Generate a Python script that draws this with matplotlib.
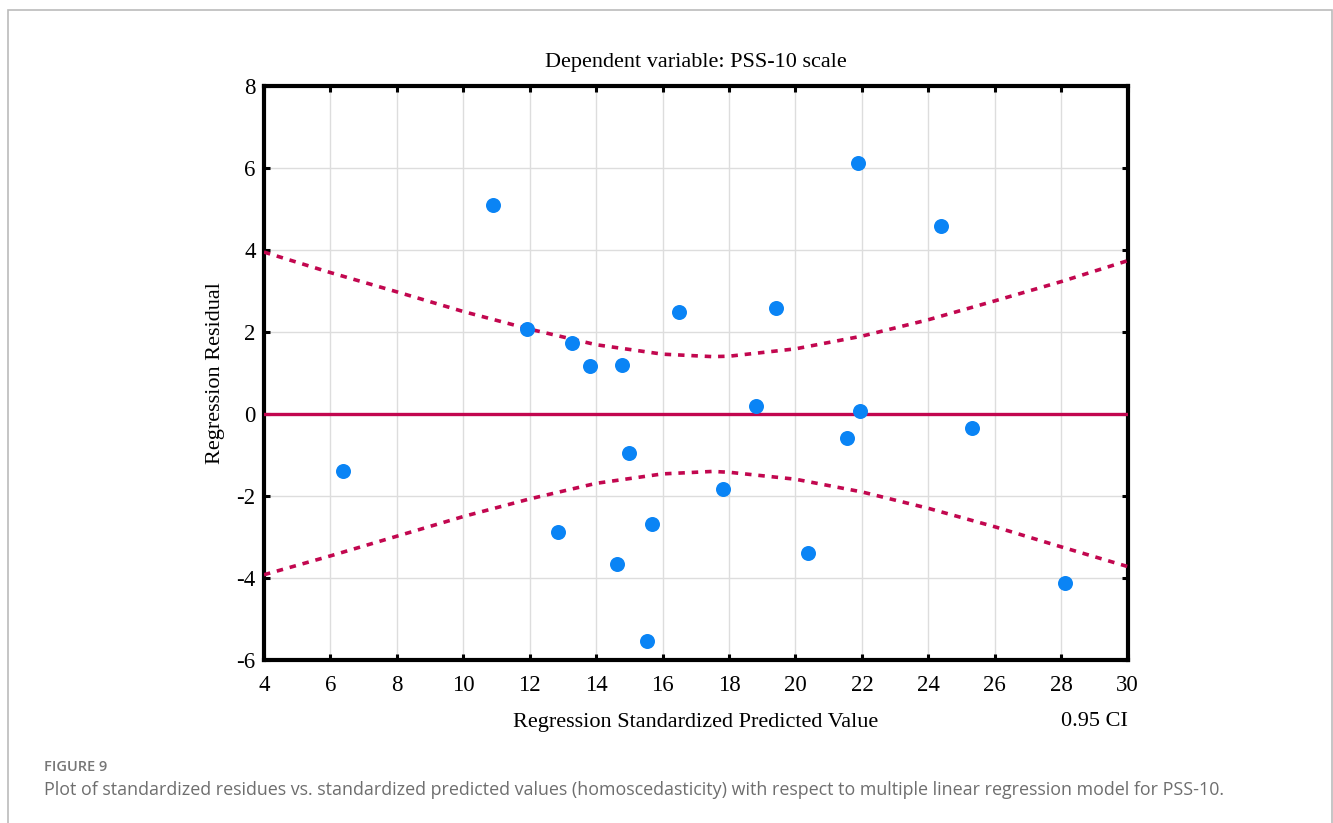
import matplotlib
matplotlib.use("Agg")
import matplotlib.pyplot as plt
from matplotlib.patches import Rectangle

plt.rcParams["axes.unicode_minus"] = False

# predicted vs residual values
predicted = [6.39, 10.90, 11.92, 12.86, 13.27, 13.82, 14.64, 14.77, 14.98, 15.52,
             15.67, 16.50, 17.81, 18.80, 19.41, 20.38, 21.56, 21.87, 21.94, 24.37,
             25.32, 28.11]
residual = [-1.39, 5.11, 2.07, -2.87, 1.73, 1.17, -3.65, 1.20, -0.96, -5.53,
            -2.67, 2.48, -1.82, 0.20, 2.59, -3.40, -0.58, 6.12, 0.07, 4.59,
            -0.33, -4.11]

# 0.95 confidence band, read at grid positions
ci_x = [4, 6, 8, 10, 12, 14, 16, 17.5, 18, 20, 22, 24, 26, 28, 30]
ci_upper = [3.95, 3.45, 2.98, 2.50, 2.07, 1.69, 1.46, 1.40, 1.41, 1.59, 1.90, 2.30, 2.76, 3.23, 3.74]
ci_lower = [-3.92, -3.46, -2.98, -2.50, -2.07, -1.69, -1.46, -1.40, -1.42, -1.59, -1.90, -2.30, -2.75, -3.24, -3.72]

x_ticks = list(range(4, 31, 2))
y_ticks = list(range(-6, 9, 2))

title = "Dependent variable: PSS-10 scale"
x_label = "Regression Standardized Predicted Value"
y_label = "Regression Residual"
ci_label = "0.95 CI"
fig_tag = "FIGURE 9"
caption = ("Plot of standardized residues vs. standardized predicted values (homoscedasticity) "
           "with respect to multiple linear regression model for PSS-10.")

blue = "#0A84F5"
crimson = "#C2074F"
serif = ["Liberation Serif", "DejaVu Serif"]
sans = ["Open Sans", "DejaVu Sans"]

fig = plt.figure(figsize=(13.33, 8.23), dpi=100)
ax = fig.add_axes([0.198, 0.198, 0.648, 0.6975])

ax.plot(ci_x, ci_upper, color=crimson, lw=2.6, dashes=(1.8, 1.9), zorder=3)
ax.plot(ci_x, ci_lower, color=crimson, lw=2.6, dashes=(1.8, 1.9), zorder=3)
ax.axhline(0, color=crimson, lw=2.4, zorder=3)
ax.plot(predicted, residual, "o", color=blue, markersize=10.8, markeredgewidth=0, zorder=4)

ax.set_xlim(4, 30)
ax.set_ylim(-6, 8)
ax.set_xticks(x_ticks)
ax.set_yticks(y_ticks)
ax.grid(True, color="#DDDDDD", lw=1.0, zorder=0)
ax.set_axisbelow(True)

for side in ax.spines.values():
    side.set_linewidth(3.0)
    side.set_color("black")
ax.tick_params(direction="in", length=4, width=2.2, top=True, right=True,
               labelsize=16.5, pad=11)
ax.tick_params(axis="y", pad=6)
for lab in ax.get_xticklabels() + ax.get_yticklabels():
    lab.set_family(serif)

ax.set_title(title, fontsize=16, family=serif, pad=14)
ax.set_xlabel(x_label, fontsize=16, family=serif, labelpad=12)
ax.set_ylabel(y_label, fontsize=16, family=serif, labelpad=8)
ax.text(1.0, -0.107, ci_label, transform=ax.transAxes, ha="right", va="center",
        fontsize=16, family=serif)

# outer panel border and caption
fig.patches.append(Rectangle((8 / 1333, -0.05), 1324 / 1333, 1.05 - 10 / 823,
                             transform=fig.transFigure, fill=False,
                             edgecolor="#BBBBBB", lw=1.2))
fig.text(44 / 1333, 1 - 767 / 823, fig_tag, fontsize=10.5, color="#777777",
         family=sans, weight="semibold", va="center")
fig.text(44 / 1333, 1 - 790 / 823, caption, fontsize=12.9, color="#6E6E6E",
         family=sans, va="center")

fig.savefig("out.png", dpi=100)
